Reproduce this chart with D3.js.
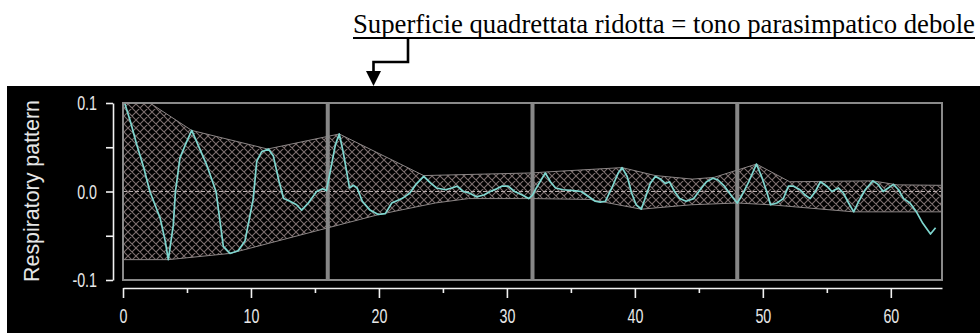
<!DOCTYPE html>
<html><head><meta charset="utf-8">
<script src="https://cdn.jsdelivr.net/npm/d3@7"></script>
<style>html,body{margin:0;padding:0;background:#fff;}svg{display:block;}</style>
</head><body>
<svg id="c" width="980" height="333"></svg>
<script>
// ---- data ----
const annotation = "Superficie quadrettata ridotta = tono parasimpatico debole";
const yTitle = "Respiratory pattern";
const xTicks = [0, 10, 20, 30, 40, 50, 60];
const xMinorTicks = [5, 15, 25, 35, 45, 55];
const yTicks = [-0.1, 0, 0.1];
const yMinorTicks = [-0.05, 0.05];
const separators = [16, 32, 48];
const series = [
 [0,0.106],[0.6,0.078],[1.07,0.053],[1.6,0.028],[2.1,0.0],[2.9,-0.030],[3.3,-0.056],[3.54,-0.077],
 [3.93,-0.038],[4.1,0.0],[4.45,0.038],[4.97,0.056],[5.37,0.069],[5.76,0.056],[6.54,0.030],[7.27,0.0],
 [7.84,-0.062],[8.36,-0.070],[9.0,-0.067],[9.53,-0.056],[10.18,-0.008],[10.45,0.034],[10.84,0.045],
 [11.36,0.048],[11.75,0.040],[12.2,0.011],[12.55,-0.008],[13.05,-0.011],[13.57,-0.015],[13.96,-0.021],
 [14.48,-0.013],[15.13,0.0],[15.6,0.003],[15.9,0.001],[16.2,0.023],[16.6,0.053],[16.9,0.065],[17.2,0.045],
 [17.7,0.004],[18.0,0.007],[18.3,0.004],[18.7,-0.011],[19.3,-0.021],[19.95,-0.026],[20.5,-0.025],
 [21.0,-0.013],[21.8,-0.008],[22.4,-0.002],[22.95,0.009],[23.5,0.017],[24.0,0.010],[24.5,0.004],
 [25.2,0.002],[25.7,0.004],[26.1,0.006],[26.6,0.0],[27.1,-0.002],[27.6,-0.006],[28.2,-0.004],[28.7,0.0],
 [29.2,0.003],[29.6,0.006],[30.1,0.006],[30.6,0.0],[31.2,-0.004],[31.7,-0.008],[32.0,-0.004],[32.3,0.004],
 [33.0,0.021],[33.4,0.011],[33.8,0.004],[34.4,0.002],[35.2,0.001],[35.8,0.0],[36.4,-0.006],[36.9,-0.011],
 [37.3,-0.012],[37.7,-0.011],[38.2,0.004],[38.7,0.021],[39.0,0.027],[39.4,0.017],[39.75,-0.002],
 [40.1,-0.015],[40.5,-0.020],[40.8,-0.008],[41.2,0.009],[41.6,0.017],[42.0,0.014],[42.4,0.009],
 [42.7,0.011],[43.1,0.0],[43.5,-0.008],[44.0,-0.011],[44.6,-0.008],[45.1,0.002],[45.6,0.011],[46.1,0.015],
 [46.5,0.013],[47.0,0.006],[47.6,-0.006],[48.0,-0.013],[48.3,-0.006],[48.9,0.011],[49.5,0.031],
 [49.9,0.017],[50.3,0.0],[50.6,-0.015],[51.1,-0.013],[51.6,-0.008],[52.0,0.006],[52.4,0.006],
 [52.9,0.002],[53.3,-0.004],[53.7,-0.008],[54.1,0.0],[54.5,0.011],[55.0,0.006],[55.4,0.0],[55.9,0.004],
 [56.3,-0.002],[56.7,-0.013],[57.1,-0.023],[57.5,-0.011],[58.0,0.002],[58.6,0.012],[59.0,0.008],
 [59.4,0.0],[59.8,0.004],[60.2,0.008],[60.6,0.002],[61.0,-0.008],[61.5,-0.013],[62.0,-0.023],
 [62.5,-0.036],[63.1,-0.048],[63.5,-0.041]
];
const envelopeUpper = [
 [0,0.12],[5.37,0.069],[11.3,0.048],[16.9,0.065],[23.5,0.018],[32,0.021],[33,0.022],[39,0.027],
 [41.6,0.018],[44.5,0.014],[46.2,0.016],[49.5,0.031],[52.1,0.011],[58.6,0.012],[60.5,0.0075],[64,0.007]
];
const envelopeLower = [
 [0,-0.077],[3.54,-0.077],[8.36,-0.070],[20,-0.026],[24.4,-0.013],[27,-0.008],[32,-0.008],[36.5,-0.009],
 [40.5,-0.020],[44.4,-0.015],[48,-0.013],[50.6,-0.015],[57.1,-0.023],[64,-0.023]
];

// ---- layout ----
const svg = d3.select("#c");
const L = 123, R = 942, T = 103, B = 280;
const x = d3.scaleLinear().domain([0, 64]).range([L, R]);
const y = d3.scaleLinear().domain([-0.1, 0.1]).range([B, T]);

// annotation
const ann = svg.append("text").attr("x", 353).attr("y", 33)
  .attr("font-family", "'Liberation Serif','Times New Roman',serif").attr("font-size", 24)
  .attr("fill", "#000").text(annotation);
const w0 = ann.node().getComputedTextLength();
ann.attr("font-size", 24 * 622 / w0);
svg.append("line").attr("x1", 353).attr("x2", 975).attr("y1", 38).attr("y2", 38)
  .attr("stroke", "#000").attr("stroke-width", 2);
svg.append("path").attr("d", "M408,38 V62 H373.5 V73").attr("fill", "none")
  .attr("stroke", "#000").attr("stroke-width", 2.6);
svg.append("path").attr("d", "M366,71 L381,71 L373.5,86 Z").attr("fill", "#000");

// black panel
svg.append("rect").attr("x", 7).attr("y", 86).attr("width", 973).attr("height", 247).attr("fill", "#000");

// defs
const defs = svg.append("defs");
defs.append("clipPath").attr("id", "clip").append("rect")
  .attr("x", L).attr("y", T).attr("width", R - L).attr("height", B - T);
const pat = defs.append("pattern").attr("id", "hatch").attr("patternUnits", "userSpaceOnUse")
  .attr("width", 8).attr("height", 8);
pat.append("path").attr("d", "M0,0 L8,8 M8,0 L0,8 M-1,7 L1,9 M7,-1 L9,1 M-1,1 L1,-1 M7,9 L9,7")
  .attr("stroke", "#7c6e6e").attr("stroke-width", 1.1).attr("fill", "none");

const g = svg.append("g").attr("clip-path", "url(#clip)");
const line = d3.line().x(d => x(d[0])).y(d => y(d[1]));

// hatched band
const poly = envelopeUpper.concat(envelopeLower.slice().reverse());
g.append("path").attr("d", line(poly) + "Z").attr("fill", "url(#hatch)").attr("stroke", "none");
g.append("path").attr("d", line(envelopeUpper)).attr("fill", "none").attr("stroke", "#8c8686").attr("stroke-width", 1);
g.append("path").attr("d", line(envelopeLower)).attr("fill", "none").attr("stroke", "#8c8686").attr("stroke-width", 1);

// zero line
g.append("line").attr("x1", L).attr("x2", R).attr("y1", y(0)).attr("y2", y(0))
  .attr("stroke", "#b8adad").attr("stroke-width", 1).attr("stroke-dasharray", "4,2");

// separators
g.selectAll("line.sep").data(separators).enter().append("line").attr("class", "sep")
  .attr("x1", d => x(d)).attr("x2", d => x(d)).attr("y1", T).attr("y2", B)
  .attr("stroke", "#878787").attr("stroke-width", 4);

// series line
g.append("path").attr("d", line(series)).attr("fill", "none")
  .attr("stroke", "#7ed6cf").attr("stroke-width", 1.7).attr("stroke-linejoin", "round");

// plot border
svg.append("rect").attr("x", L).attr("y", T).attr("width", R - L).attr("height", B - T)
  .attr("fill", "none").attr("stroke", "#8a8a8a").attr("stroke-width", 2);

// axes
const fmt = d => (d < 0 ? "-" : "") + Math.abs(d).toFixed(1);
const yAxisG = svg.append("g").attr("transform", "translate(113,0)")
  .call(d3.axisLeft(y).tickValues(yTicks.concat(yMinorTicks)).tickSize(7).tickSizeOuter(0).tickPadding(9)
    .tickFormat(d => yTicks.includes(d) ? fmt(d) : ""));
const xAxisG = svg.append("g").attr("transform", "translate(0,288)")
  .call(d3.axisBottom(x).tickValues(xTicks).tickSize(10).tickSizeOuter(0).tickPadding(10).tickFormat(d3.format("d")));
const xMinorG = svg.append("g").attr("transform", "translate(0,288)")
  .call(d3.axisBottom(x).tickValues(xMinorTicks).tickSize(5).tickSizeOuter(0).tickFormat(""));
xMinorG.select(".domain").remove();
[yAxisG, xAxisG, xMinorG].forEach(a => {
  a.selectAll("path,line").attr("stroke", "#f2f2f2").attr("stroke-width", 1.6);
  a.selectAll("text").attr("fill", "#e8e8e8")
    .attr("font-family", "'Liberation Sans',Arial,sans-serif")
    .attr("font-size", 21)
    .each(function () {
      const t = d3.select(this);
      const tx = +t.attr("x") || 0, ty = +t.attr("y") || 0;
      t.attr("transform", `translate(${tx},${ty}) scale(0.68,1)`).attr("x", 0).attr("y", 0);
    });
});

// y title
const yt = svg.append("text").attr("transform", "translate(39,191) rotate(-90)")
  .attr("text-anchor", "middle").attr("fill", "#e6e6e6")
  .attr("font-family", "'Liberation Sans',Arial,sans-serif").attr("font-size", 17).text(yTitle);
const tw = yt.node().getComputedTextLength();
yt.attr("font-size", 17 * 182 / tw);
</script>
</body></html>
